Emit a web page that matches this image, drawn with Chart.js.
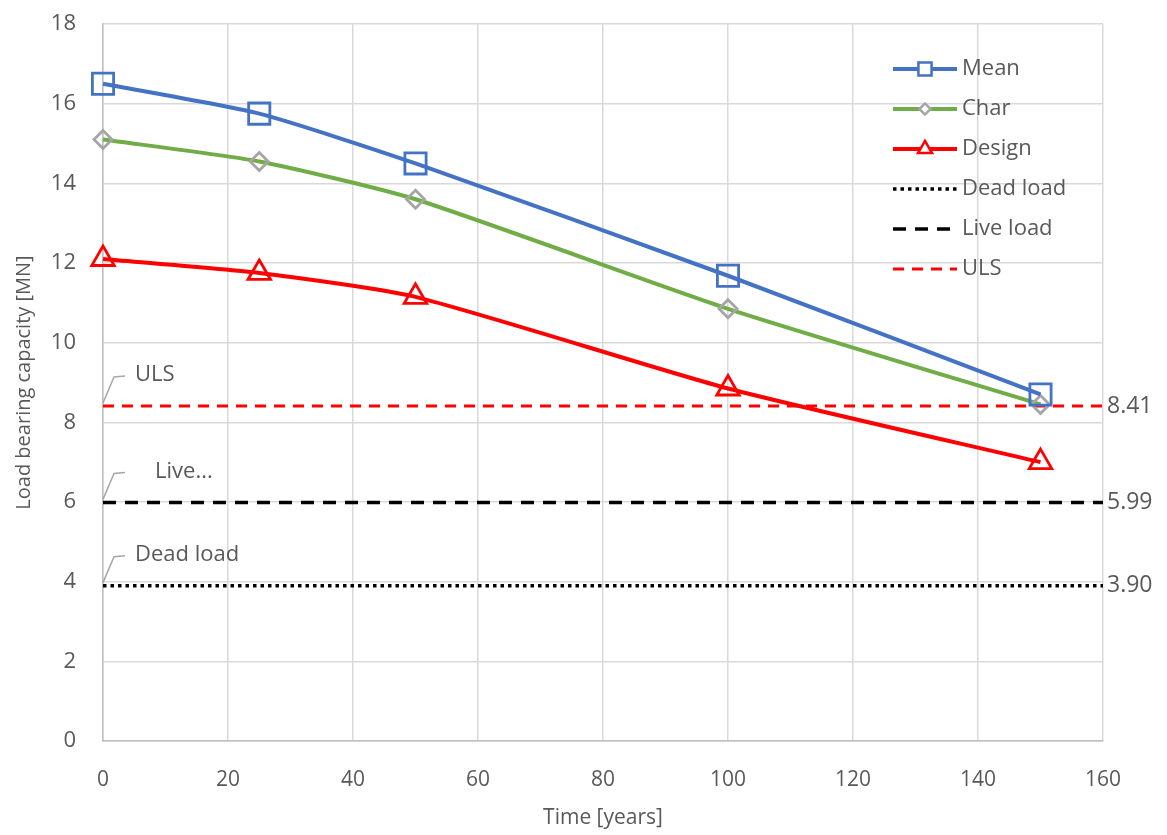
<!DOCTYPE html>
<html lang="en">
<head>
  <meta charset="UTF-8">
  <title>Load bearing capacity</title>
  <script src="https://cdn.jsdelivr.net/npm/chart.js@4.4.0/dist/chart.umd.min.js"></script>
  <style>
    html, body { margin: 0; padding: 0; background: #fff; }
    #wrap { width: 1167px; height: 835px; }
  </style>
</head>
<body>
  <div id="wrap"><canvas id="myChart" width="1167" height="835"></canvas></div>
  <script>
    // data
    const years = [0, 25, 50, 100, 150];
    const meanVals = [16.5, 15.75, 14.5, 11.68, 8.7];
    const charVals = [15.1, 14.55, 13.6, 10.85, 8.45];
    const designVals = [12.1, 11.75, 11.15, 8.85, 7.0];
    const deadLoad = 3.90;
    const liveLoad = 5.99;
    const uls = 8.41;
    const xRange = [0, 160];
    const refLabels = ['ULS', 'Live...', 'Dead load'];

    const font = '"Open Sans", sans-serif';
    const grey = '#595959';

    function pts(vals) {
      return years.map((x, i) => ({ x: x, y: vals[i] }));
    }
    function flat(v) {
      return xRange.map(x => ({ x: x, y: v }));
    }

    const datasets = [
      { label: 'Mean', data: pts(meanVals), borderColor: '#4472c4', borderWidth: 4,
        pointStyle: 'rect', pointRadius: 15, pointBorderWidth: 2.8,
        pointBorderColor: '#4472c4', pointBackgroundColor: 'rgba(255,255,255,0)', tension: 0.2 },
      { label: 'Char', data: pts(charVals), borderColor: '#70ad47', borderWidth: 4,
        pointStyle: 'rectRot', pointRadius: 9, pointBorderWidth: 2.8,
        pointBorderColor: '#a5a5a5', pointBackgroundColor: 'rgba(255,255,255,0)', tension: 0.2 },
      { label: 'Design', data: pts(designVals), borderColor: '#ff0000', borderWidth: 4,
        pointStyle: 'triangle', pointRadius: 13, pointBorderWidth: 2.8,
        pointBorderColor: '#ff0000', pointBackgroundColor: 'rgba(255,255,255,0)', tension: 0.2 },
      { label: 'Dead load', data: flat(deadLoad), borderColor: '#000', borderWidth: 3.5,
        borderDash: [3.5, 4], pointRadius: 0, refText: refLabels[2], value: deadLoad },
      { label: 'Live load', data: flat(liveLoad), borderColor: '#000', borderWidth: 3.5,
        borderDash: [13, 9], pointRadius: 0, refText: refLabels[1], value: liveLoad },
      { label: 'ULS', data: flat(uls), borderColor: '#ff0000', borderWidth: 3,
        borderDash: [11, 8], pointRadius: 0, refText: refLabels[0], value: uls }
    ];
    datasets.forEach(d => { d.clip = false; });

    // legend + labels for the reference lines, drawn by hand
    const extras = {
      id: 'extras',
      afterDatasetsDraw(chart) {
        const ctx = chart.ctx;
        const xs = chart.scales.x, ys = chart.scales.y;
        ctx.save();
        ctx.textBaseline = 'middle';

        // legend
        chart.data.datasets.forEach((ds, i) => {
          const y = 69 + i * 40;
          const x0 = 893, x1 = 957, xm = (x0 + x1) / 2;
          ctx.strokeStyle = ds.borderColor;
          ctx.lineWidth = ds.borderWidth;
          ctx.setLineDash(ds.borderDash || []);
          ctx.beginPath(); ctx.moveTo(x0, y); ctx.lineTo(x1, y); ctx.stroke();
          ctx.setLineDash([]);
          if (ds.pointRadius) {
            ctx.fillStyle = '#fff';
            ctx.strokeStyle = ds.pointBorderColor;
            ctx.lineWidth = 2.5;
            Chart.helpers.drawPoint(ctx, { pointStyle: ds.pointStyle, radius: ds.pointRadius * 0.62, borderWidth: 2.5 }, xm, y);
          }
          ctx.fillStyle = grey;
          ctx.textAlign = 'left';
          ctx.font = '22px ' + font;
          ctx.fillText(ds.label, 962, y);
        });

        // value labels on the right, names with leader lines on the left
        chart.data.datasets.filter(d => d.refText).forEach(ds => {
          const py = ys.getPixelForValue(ds.value);
          ctx.fillStyle = grey;
          ctx.textAlign = 'left';
          ctx.font = '23px ' + font;
          ctx.fillText(ds.value.toFixed(2), 1107, py);
          const lx = xs.getPixelForValue(0);
          ctx.strokeStyle = '#a6a6a6';
          ctx.lineWidth = 1.5;
          ctx.beginPath();
          ctx.moveTo(lx, py - 3);
          ctx.lineTo(lx + 11, py - 29);
          ctx.lineTo(lx + 22, py - 30);
          ctx.stroke();
          ctx.font = '22px ' + font;
          ctx.fillStyle = grey;
          const off = ds.refText === 'Live...' ? 52 : 32;
          ctx.fillText(ds.refText, lx + off, py - 31);
        });
        ctx.restore();
      }
    };

    const ctx = document.getElementById('myChart').getContext('2d');
    const myChart = new Chart(ctx, {
      type: 'line',
      data: { datasets: datasets },
      plugins: [extras],
      options: {
        responsive: false,
        animation: false,
        layout: { autoPadding: false, padding: { top: 24, right: 64, left: 8, bottom: 0 } },
        plugins: { legend: { display: false }, tooltip: { enabled: false } },
        scales: {
          x: {
            type: 'linear', min: 0, max: 160,
            ticks: { stepSize: 20, color: grey, font: { family: font, size: 21 }, padding: 26 },
            grid: { color: '#d9d9d9', lineWidth: 1.5, drawTicks: false },
            border: { color: '#bfbfbf', width: 1.5 },
            title: { display: true, text: 'Time [years]', color: grey, font: { family: font, size: 21 }, padding: { top: 2 } },
            afterFit(s) { s.height = 94; }
          },
          y: {
            min: 0, max: 18,
            ticks: { stepSize: 2, color: grey, font: { family: font, size: 22 }, padding: 27 },
            grid: { color: '#d9d9d9', lineWidth: 1.5, drawTicks: false },
            border: { color: '#bfbfbf', width: 1.5 },
            title: { display: true, text: 'Load bearing capacity [MN]', color: grey, font: { family: font, size: 20 } },
            afterFit(s) { s.width = 95; s.paddingTop = 0; s.paddingBottom = 0; }
          }
        }
      }
    });
  </script>
</body>
</html>
